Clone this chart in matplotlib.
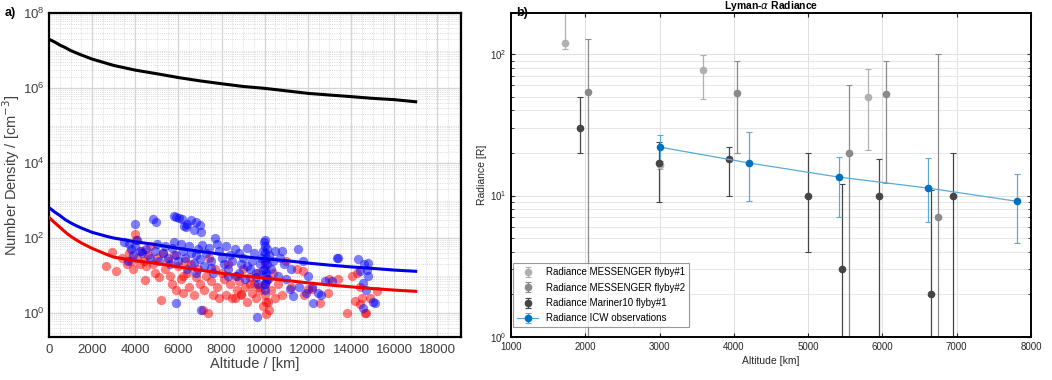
import numpy as np
import matplotlib
matplotlib.use("Agg")
import matplotlib.pyplot as plt
from matplotlib.ticker import LogLocator, MultipleLocator, NullFormatter

plt.rcParams["font.family"] = ["Liberation Sans", "DejaVu Sans"]

# ---- panel a) model curves (altitude km, density cm^-3)
curve_alt = [0, 250, 500, 750, 1000, 1250, 1500, 2000, 2700, 3000, 4000, 5000, 6000, 7000, 8000,
             9000, 10000, 11000, 12000, 13000, 14000, 15000, 16000, 17000]
black_dens = [2.0e7, 1.7e7, 1.4e7, 1.2e7, 1.0e7, 8.7e6, 7.6e6, 5.9e6, 4.5e6, 4.0e6, 3.0e6, 2.4e6,
              1.9e6, 1.55e6, 1.3e6, 1.1e6, 9.8e5, 8.4e5, 7.2e5, 6.5e5, 5.9e5, 5.3e5, 4.9e5, 4.3e5]
blue_dens = [650, 500, 400, 310, 255, 215, 185, 142, 110, 100, 80, 66,
             53, 44, 37, 32, 28, 25, 21.5, 19, 17, 15.5, 14, 13]
red_dens = [355, 260, 195, 145, 112, 90, 74, 53, 36, 31, 25, 21,
            17, 14, 11.5, 9.8, 8.5, 7.4, 6.4, 5.6, 5.0, 4.5, 4.1, 3.8]
dens_ticks = [1e0, 1e2, 1e4, 1e6, 1e8]

# ---- panel a) observations
blue_alt = [3970, 4820, 4980, 5780, 5900, 6030, 6180, 6400, 6600, 6830, 6990, 6370, 6720, 7050, 6250,
            3500, 3700, 3800, 3900, 4000, 4100, 4200, 4300, 3650, 4500, 4700, 4900, 5000, 5100, 5300,
            5400, 5500, 5600, 5700, 5800, 5900, 6000, 6100, 6200, 6300, 6400, 6500, 6600, 6700, 6800,
            6900, 7000, 7100, 7200, 7300, 7400, 7500, 7600, 7700, 7800, 7900, 8000, 8100, 8200, 8300,
            8400, 8500, 8600, 8700, 8800, 8900, 9000, 9100, 9200, 9300, 9400, 9500, 9600, 9700, 9800,
            9850, 9900, 9950, 10000, 10000, 10000, 10000, 10000, 10000, 10000, 10000, 10050, 10050, 10100,
            10100, 10150, 10200, 10300, 10400, 10500, 10600, 10700, 10800, 10900, 11000, 11200, 11550, 11600,
            11790, 11900, 12000, 12200, 12480, 12600, 12800, 13100, 13360, 13400, 14340, 14430, 14600, 14800,
            14800, 14750, 14570, 14700, 15000, 5900, 7050, 9660, 12250, 14570, 15130, 11320, 11180,
            8800, 9200, 9600, 9900, 10050, 8300, 7500, 6800]
blue_obs = [230, 330, 270, 380, 360, 350, 330, 235, 300, 270, 220, 200, 160, 145, 210,
            80, 70, 50, 35, 60, 90, 45, 40, 25, 50, 30, 45, 70, 25, 40,
            60, 30, 20, 55, 80, 35, 25, 70, 45, 30, 15, 60, 40, 22, 35,
            50, 28, 65, 18, 40, 55, 25, 12, 100, 70, 45, 30, 20, 60, 15,
            35, 25, 50, 10, 40, 20, 30, 8, 55, 15, 25, 40, 12, 6, 20,
            30, 45, 80, 90, 60, 40, 25, 15, 10, 6, 4, 30, 12, 20,
            50, 8, 35, 15, 25, 45, 10, 30, 45, 20, 8, 15, 52, 5,
            25, 3.5, 10, 5, 3.5, 3, 7.3, 7.3, 30, 30, 28, 13.6, 20, 22,
            10, 14, 6.5, 4, 2, 1.9, 1.2, 0.78, 1.9, 1.4, 1.9, 2.9, 4.5,
            12, 18, 9, 14, 7, 10, 16, 12]

red_alt = [2660, 2940, 3090, 3400, 3600, 3700, 3800, 3900, 3970, 4050, 4100, 4200, 4300, 4400, 4440,
           4500, 4600, 4700, 4800, 4900, 5000, 5100, 5210, 5300, 5400, 5500, 5600, 5700, 5800, 5900,
           6000, 6100, 6200, 6300, 6400, 6500, 6600, 6700, 6800, 6900, 7000, 7140, 7200, 7370, 7300,
           7400, 7500, 7600, 7700, 7800, 7900, 8000, 8100, 8200, 8300, 8400, 8500, 8600, 8700, 8800,
           8900, 9000, 9100, 9200, 9300, 9400, 9500, 9600, 9700, 9800, 9900, 10000, 10000, 10000, 10050,
           10080, 10100, 10200, 10300, 10400, 10500, 10600, 10800, 11000, 11200, 11500, 11790, 11800, 12000,
           12200, 12570, 12950, 13830, 14060, 14200, 14300, 14400, 14500, 14660, 14690, 14900, 15220, 13000,
           13400, 14400, 8600, 9300, 9750, 10150, 8900, 6200]
red_obs = [17.5, 43, 13, 30, 20, 40, 25, 15, 130, 87, 30, 20, 45, 25, 7.8,
           18, 35, 60, 20, 12, 30, 9, 2.2, 40, 15, 25, 10, 6, 35, 4,
           18, 8, 3.5, 25, 12, 5, 20, 3, 9, 15, 6, 1.2, 4, 1.0, 10,
           30, 7, 3, 15, 5, 2.5, 12, 8, 3, 20, 6, 2.5, 10, 4, 7,
           3, 15, 5, 2, 9, 3.5, 6, 2.5, 12, 4, 1.5, 6, 3, 20, 2,
           0.95, 8, 1.2, 4, 12, 2.5, 6, 3, 25, 5, 15, 13.5, 3, 4.5,
           4.5, 1.8, 3.5, 1.0, 10, 2.1, 12, 1.7, 2.5, 1.0, 1.0, 2.5, 3.9, 8,
           8, 5, 2.5, 6, 5, 2, 3.2, 10]

# ---- panel b) Lyman-alpha radiance (altitude km, radiance R, lower/upper bounds)
m1_alt = [1730, 3000, 3590, 5800]
m1_val = [119, 16.5, 77, 50]
m1_lo = [109, 15.5, 48, 21]
m1_hi = [400, 17.5, 99, 78]

m2_alt = [2030, 4040, 5550, 6045, 6750]
m2_val = [54, 53, 20, 52, 7.0]
m2_lo = [0.5, 20, 0.5, 12.2, 0.5]
m2_hi = [128, 89, 60, 89, 100]

mar_alt = [1930, 2990, 3940, 5000, 5450, 5950, 6650, 6955]
mar_val = [30, 17, 18, 10, 3.0, 10, 2.0, 10]
mar_lo = [20, 9.0, 10, 4.0, 0.5, 0.5, 0.5, 0.5]
mar_hi = [50, 24, 22, 20, 12, 18, 11, 20]

icw_alt = [3000, 4200, 5410, 6610, 7810]
icw_val = [22, 17, 13.5, 11.3, 9.1]
icw_lo = [17.5, 9.2, 7.1, 6.45, 4.6]
icw_hi = [26.7, 28, 18.8, 18.5, 14.3]
rad_ticks = [1e0, 1e1, 1e2]


def bounds_to_err(val, lo, hi):
    val = np.array(val)
    return [val - np.array(lo), np.array(hi) - val]


fig = plt.figure(figsize=(10.52, 3.8), dpi=100)

# ================= panel a)
ax1 = fig.add_axes([49 / 1052, 43 / 380, 412 / 1052, 324 / 380])
ax1.scatter(red_alt, red_obs, s=45, color=(1, 0, 0), alpha=0.5, linewidths=0, zorder=3)
ax1.scatter(blue_alt, blue_obs, s=45, color=(0, 0, 1), alpha=0.5, linewidths=0, zorder=3)
ax1.plot(curve_alt, black_dens, color="black", lw=2.2, zorder=4)
ax1.plot(curve_alt, blue_dens, color=(0, 0, 0.9), lw=2.2, zorder=4)
ax1.plot(curve_alt, red_dens, color=(0.95, 0, 0), lw=2.2, zorder=4)

ax1.set_yscale("log")
ax1.set_xlim(0, 19100)
ax1.set_ylim(0.23, 1e8)
ax1.set_xticks(range(0, 18001, 2000))
ax1.set_yticks(dens_ticks)
ax1.xaxis.set_minor_locator(MultipleLocator(500))
ax1.yaxis.set_minor_locator(LogLocator(base=10, subs=np.arange(1, 10), numticks=30))
ax1.yaxis.set_minor_formatter(NullFormatter())
ax1.grid(True, which="major", color="#d4d4d4", lw=0.9)
ax1.grid(True, which="minor", color="#cfcfcf", lw=0.6, ls=":")
ax1.set_axisbelow(True)
ax1.tick_params(which="both", length=0, labelsize=9.5, colors="#404040", pad=3)
ax1.tick_params(axis="x", pad=5)
for sp in ax1.spines.values():
    sp.set_linewidth(1.6)
    sp.set_color("black")
ax1.set_xlabel("Altitude / [km]", fontsize=10.5, color="#404040", labelpad=1)
ax1.set_ylabel("Number Density / [cm$^{-3}$]", fontsize=10.5, color="#404040", labelpad=1)
fig.text(5 / 1052, 1 - 16 / 380, "a)", fontsize=9, fontweight="bold")

# ================= panel b)
ax2 = fig.add_axes([511 / 1052, 43 / 380, 520 / 1052, 324 / 380])
ekw = dict(fmt="o", ms=4.5, elinewidth=0.9, capsize=2, capthick=0.8)
ax2.errorbar(m1_alt, m1_val, yerr=bounds_to_err(m1_val, m1_lo, m1_hi), color="#b0b0b0",
             label="Radiance MESSENGER flyby#1", **ekw)
ax2.errorbar(m2_alt, m2_val, yerr=bounds_to_err(m2_val, m2_lo, m2_hi), color="#8a8a8a",
             label="Radiance MESSENGER flyby#2", **ekw)
ax2.errorbar(mar_alt, mar_val, yerr=bounds_to_err(mar_val, mar_lo, mar_hi), color="#454545",
             label="Radiance Mariner10 flyby#1", **ekw)
ax2.errorbar(icw_alt, icw_val, yerr=bounds_to_err(icw_val, icw_lo, icw_hi), fmt="-o", ms=4.5,
             color="#5aaadb", mfc="#0072BD", mec="#0072BD", lw=0.9, elinewidth=0.9,
             capsize=2, capthick=0.8, label="Radiance ICW observations")

ax2.set_yscale("log")
ax2.set_xlim(1000, 8000)
ax2.set_ylim(1, 195)
ax2.set_xticks(range(1000, 8001, 1000))
ax2.set_yticks(rad_ticks)
ax2.yaxis.set_minor_locator(LogLocator(base=10, subs=np.arange(2, 10), numticks=30))
ax2.yaxis.set_minor_formatter(NullFormatter())
ax2.grid(True, which="major", color="#e0e0e0", lw=0.7)
ax2.grid(True, which="minor", axis="y", color="#e6e6e6", lw=0.7)
ax2.set_axisbelow(True)
ax2.tick_params(which="both", direction="in", top=True, right=True, labelsize=7,
                colors="#262626", length=3)
ax2.tick_params(which="minor", length=2)
for sp in ax2.spines.values():
    sp.set_linewidth(1.4)
    sp.set_color("black")
ax2.set_xlabel("Altitude [km]", fontsize=7.5, color="#262626", labelpad=3)
ax2.set_ylabel("Radiance [R]", fontsize=7.5, color="#262626", labelpad=2)
ax2.set_title("Lyman-$\\alpha$ Radiance", fontsize=7.5, fontweight="bold", pad=3)
leg = ax2.legend(loc="lower left", bbox_to_anchor=(0.004, 0.03), borderaxespad=0,
                 fontsize=7, frameon=True, fancybox=False, edgecolor="#808080",
                 handlelength=2.2, labelspacing=0.55, borderpad=0.4)
leg.get_frame().set_linewidth(0.8)
fig.text(516 / 1052, 1 - 16 / 380, "b)", fontsize=9, fontweight="bold")

fig.savefig("out.png", dpi=100)
